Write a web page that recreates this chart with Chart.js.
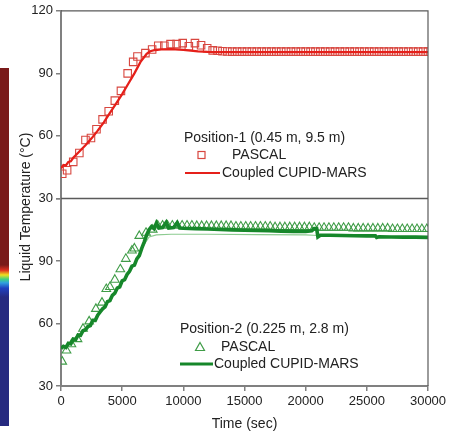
<!DOCTYPE html>
<html>
<head>
<meta charset="utf-8">
<script src="https://cdn.jsdelivr.net/npm/chart.js@4/dist/chart.umd.min.js"></script>
<style>
  html, body { margin: 0; padding: 0; background: #fff; }
  #wrap { position: relative; width: 450px; height: 435px; }
  #chart { position: absolute; left: 0; top: 0; }
  /* strip of the neighbouring colour bar, cut off at the left edge */
  #colorbar {
    position: absolute; left: 0; top: 68px; width: 9px; height: 358px;
    background: linear-gradient(to bottom, #7a1a1a 0%, #7a1a1a 55%, #e03020 56.5%, #f0e020 57.8%,
      #40d080 59%, #30a0e0 60%, #2040c0 61.5%, #262a80 64%, #262a80 100%);
  }
</style>
</head>
<body>
<div id="wrap">
  <div id="colorbar"></div>
  <canvas id="chart" width="450" height="435"></canvas>
</div>
<script>
// Position-1 (top panel)
const topPascalTime = [100, 500, 1000, 1500, 2000, 2450, 2900, 3400, 3900, 4400, 4900, 5450, 5900, 6250, 6900, 7450,
  7950, 8450, 8950, 9450, 9950, 10450, 10950, 11450, 11950, 12400,
  12800, 13200, 13600, 14000, 14400, 14800, 15200, 15600, 16000, 16400, 16800, 17200, 17600, 18000, 18400,
  18800, 19200, 19600, 20000, 20400, 20800, 21200, 21600, 22000, 22400, 22800, 23200, 23600, 24000, 24400,
  24800, 25200, 25600, 26000, 26400, 26800, 27200, 27600, 28000, 28400, 28800, 29200, 29600, 30000];
const topPascalTemp = [41.8, 43.5, 47.5, 51.8, 58, 59, 63.2, 67.9, 71.8, 76.9, 81.6, 90, 95.5, 98.1, 99.7, 101.4,
  103.2, 103.2, 104, 104, 104.5, 103, 104.5, 103.5, 102, 101,
  100.8, 100.6, 100.5, 100.4, 100.4, 100.4, 100.4, 100.4, 100.4, 100.4, 100.4, 100.4, 100.4, 100.4, 100.4,
  100.4, 100.4, 100.4, 100.4, 100.4, 100.4, 100.4, 100.4, 100.4, 100.4, 100.4, 100.4, 100.4, 100.4, 100.4,
  100.4, 100.4, 100.4, 100.4, 100.4, 100.4, 100.4, 100.4, 100.4, 100.4, 100.4, 100.4, 100.4, 100.4];

const topModelTime = [0, 200, 400, 600, 800, 1000, 1500, 2000, 2500, 3000, 3500, 4000, 4500, 5000, 5500, 6000,
  6500, 7000, 7300, 7700, 8200, 9000, 10000, 10600, 11200, 12000, 13000, 15000, 20000, 25000, 30000];
const topModelTemp = [44.5, 46, 45.8, 47.5, 47.8, 49.5, 52.5, 55.5, 58.8, 62.5, 66.5, 71, 75.5, 80, 85, 90,
  95.5, 99.3, 100.6, 101.2, 101.5, 101.6, 101.3, 100.9, 100.5, 100.3, 100.2, 100.2, 100.2, 100.2, 100.2];

// Position-2 (bottom panel)
const botPascalTime = [100, 450, 850, 1350, 1800, 2300, 2850, 3350, 3700, 4000, 4400, 4850, 5300, 5800, 6000, 6400,
  6950, 7500,
  7900, 8300, 8700, 9100, 9500, 9900, 10300, 10700, 11100, 11500, 11900, 12300, 12700, 13100, 13500, 13900,
  14300, 14700, 15100, 15500, 15900, 16300, 16700, 17100, 17500, 17900, 18300, 18700, 19100, 19500, 19900,
  20300, 20700, 21100, 21500, 21900, 22300, 22700, 23100, 23500, 23900, 24300, 24700, 25100, 25500, 25900,
  26300, 26700, 27100, 27500, 27900, 28300, 28700, 29100, 29500, 29900];
const botPascalTemp = [41.7, 47, 50, 52.5, 57.5, 61, 67, 70, 76.5, 77.5, 81, 86, 91, 95, 96, 102,
  103.5, 105,
  107, 107, 107, 107, 107, 107, 107, 107, 106.8, 106.8, 106.8, 106.8, 106.8, 106.8, 106.8, 106.8,
  106.5, 106.5, 106.5, 106.5, 106.5, 106.5, 106.5, 106.5, 106.2, 106.2, 106.2, 106.2, 106.2, 106.2, 106.2,
  106.2, 105.9, 105.9, 105.9, 105.9, 105.9, 105.9, 105.9, 105.9, 105.6, 105.6, 105.6, 105.6, 105.6, 105.6,
  105.6, 105.6, 105.3, 105.3, 105.3, 105.3, 105.3, 105.3, 105.3, 105.3];

const botModelTime = [0, 200, 400, 600, 800, 1000, 1200, 1400, 1600, 1800, 2000, 2200, 2400, 2600, 2800, 3000,
  3200, 3400, 3600, 3800, 4000, 4200, 4400, 4600, 4800, 5000, 5200, 5400, 5600, 5800, 6000, 6200, 6400,
  6600, 6800, 7000, 7200, 7400, 7600, 7800, 8000, 8300, 8600, 8800, 9200, 9500, 9700, 10000,
  11000, 12000, 13000, 14000, 15000, 16000, 17000, 18000, 19000, 20000,
  20500, 20700, 20900, 21000, 21200, 22000, 23000, 24000, 25000, 25700, 25800, 26000,
  27000, 28000, 29000, 30000];
const botModelTemp = [48, 49, 48.5, 50.5, 50.2, 52.5, 52.3, 54.5, 54.3, 56.5, 57, 58.5, 59, 61.5, 61.5, 64,
  65.5, 67, 68, 70.5, 71, 73.5, 74.5, 77, 77.5, 80.5, 81, 83.5, 85, 87.5, 88, 91, 92.5,
  96, 99, 102.5, 105, 106.5, 105.5, 108.2, 105.8, 106, 108.5, 105.8, 106, 108.3, 105.8, 105.7,
  105.5, 105.3, 105.1, 104.9, 104.7, 104.6, 104.5, 104.3, 104.2, 104.1,
  104.5, 105.5, 105.5, 101.5, 102.3, 102.3, 102.2, 102.1, 102, 102, 101.3, 101.6,
  101.5, 101.4, 101.4, 101.3];

// faint lower trace under the thick green line
const botLowerTime = [6600, 7200, 7800, 9000, 12000, 16000, 20000, 21000, 25000, 30000];
const botLowerTemp = [96, 101.5, 102.5, 102.8, 102.8, 102.6, 102.5, 102.2, 101.8, 101.4];

const yTicks = [30, 60, 90, 120];
const xTicks = [0, 5000, 10000, 15000, 20000, 25000, 30000];

const toXY = (xs, ys) => xs.map((x, i) => ({ x: x, y: ys[i] }));

const FONT = '"Liberation Sans", Arial, sans-serif';
const TEXT = '#222';
const AXIS = '#808080';
const RED = '#e5201a';
const RED_MARK = '#d8463f';
const GREEN = '#16872a';
const GREEN_MARK = '#3f9c47';

// frame, divider, y title and the two in-panel legends
const panelDeco = {
  id: 'panelDeco',
  afterDatasetsDraw(chart) {
    const { ctx, chartArea: a, scales } = chart;
    ctx.save();
    ctx.strokeStyle = '#5a5a5a';
    ctx.lineWidth = 1.2;
    ctx.beginPath();
    ctx.moveTo(a.left, a.top);
    ctx.lineTo(a.right, a.top);
    ctx.lineTo(a.right, a.bottom);
    ctx.stroke();
    const mid = scales.yTop.bottom;
    ctx.lineWidth = 1.5;
    ctx.beginPath();
    ctx.moveTo(a.left, mid);
    ctx.lineTo(a.right, mid);
    ctx.stroke();

    ctx.fillStyle = TEXT;
    ctx.font = '14px ' + FONT;
    ctx.textBaseline = 'middle';
    ctx.textAlign = 'center';
    ctx.save();
    ctx.translate(26, 207);
    ctx.rotate(-Math.PI / 2);
    ctx.fillText('Liquid Temperature (°C)', 0, 0);
    ctx.restore();

    ctx.textAlign = 'left';
    // top legend
    ctx.fillText('Position-1 (0.45 m, 9.5 m)', 184, 138);
    ctx.fillText('PASCAL', 232, 155);
    ctx.fillText('Coupled CUPID-MARS', 222, 173);
    ctx.strokeStyle = RED_MARK;
    ctx.lineWidth = 1.2;
    ctx.strokeRect(198, 151.5, 7, 7);
    ctx.strokeStyle = RED;
    ctx.lineWidth = 2.2;
    ctx.beginPath();
    ctx.moveTo(185, 173);
    ctx.lineTo(220, 173);
    ctx.stroke();

    // bottom legend
    ctx.fillText('Position-2 (0.225 m, 2.8 m)', 180, 329);
    ctx.fillText('PASCAL', 221, 347);
    ctx.fillText('Coupled CUPID-MARS', 214, 364);
    ctx.strokeStyle = GREEN_MARK;
    ctx.lineWidth = 1.2;
    ctx.beginPath();
    ctx.moveTo(200, 342.5);
    ctx.lineTo(204.5, 350.5);
    ctx.lineTo(195.5, 350.5);
    ctx.closePath();
    ctx.stroke();
    ctx.strokeStyle = GREEN;
    ctx.lineWidth = 3.2;
    ctx.beginPath();
    ctx.moveTo(180, 364);
    ctx.lineTo(213, 364);
    ctx.stroke();
    ctx.restore();
  }
};

const tickFont = { family: FONT, size: 13 };

function yScale(hideTop) {
  return {
    type: 'linear',
    position: 'left',
    stack: 'temp',
    stackWeight: 1,
    min: 30,
    max: 120,
    afterBuildTicks: (s) => { s.ticks = yTicks.map(v => ({ value: v })); },
    ticks: {
      color: TEXT,
      font: tickFont,
      padding: 3,
      callback: (v) => (hideTop && v === 120 ? '' : String(v))
    },
    grid: { drawOnChartArea: false, tickLength: 5, color: AXIS, lineWidth: 1.5 },
    border: { color: AXIS, width: 2 },
    afterFit: (s) => { s.width = 61; }
  };
}

new Chart(document.getElementById('chart'), {
  type: 'line',
  data: {
    datasets: [
      {
        label: 'PASCAL',
        data: toXY(topPascalTime, topPascalTemp),
        yAxisID: 'yTop',
        showLine: false,
        pointStyle: 'rect',
        pointRadius: 5.3,
        pointBorderWidth: 1.1,
        pointBorderColor: RED_MARK,
        pointBackgroundColor: 'rgba(0,0,0,0)',
        order: 2
      },
      {
        label: 'Coupled CUPID-MARS',
        data: toXY(topModelTime, topModelTemp),
        yAxisID: 'yTop',
        borderColor: RED,
        borderWidth: 2.3,
        pointRadius: 0,
        tension: 0,
        order: 1
      },
      {
        label: 'PASCAL',
        data: toXY(botPascalTime, botPascalTemp),
        yAxisID: 'yBot',
        showLine: false,
        pointStyle: 'triangle',
        pointRadius: 5,
        pointBorderWidth: 1.1,
        pointBorderColor: GREEN_MARK,
        pointBackgroundColor: 'rgba(0,0,0,0)',
        order: 3
      },
      {
        label: 'lower',
        data: toXY(botLowerTime, botLowerTemp),
        yAxisID: 'yBot',
        borderColor: '#8ccb90',
        borderWidth: 1.2,
        pointRadius: 0,
        tension: 0,
        order: 4
      },
      {
        label: 'Coupled CUPID-MARS',
        data: toXY(botModelTime, botModelTemp),
        yAxisID: 'yBot',
        borderColor: GREEN,
        borderWidth: 3.6,
        pointRadius: 0,
        tension: 0,
        order: 1
      }
    ]
  },
  options: {
    responsive: false,
    animation: false,
    devicePixelRatio: 1,
    layout: { padding: { top: 10, right: 22, bottom: 0, left: 0 } },
    plugins: { legend: { display: false }, tooltip: { enabled: false } },
    scales: {
      x: {
        type: 'linear',
        min: 0,
        max: 30000,
        afterBuildTicks: (s) => { s.ticks = xTicks.map(v => ({ value: v })); },
        ticks: { color: TEXT, font: tickFont, padding: 3, maxRotation: 0, callback: (v) => String(v) },
        grid: { drawOnChartArea: false, tickLength: 5, color: AXIS, lineWidth: 1.5 },
        border: { color: AXIS, width: 2 },
        title: { display: true, text: 'Time (sec)', color: TEXT, font: { family: FONT, size: 14 }, padding: { top: 0, bottom: 2 } },
        afterFit: (s) => { s.height = 49; }
      },
      yBot: yScale(true),
      yTop: yScale(false)
    }
  },
  plugins: [panelDeco]
});
</script>
</body>
</html>
